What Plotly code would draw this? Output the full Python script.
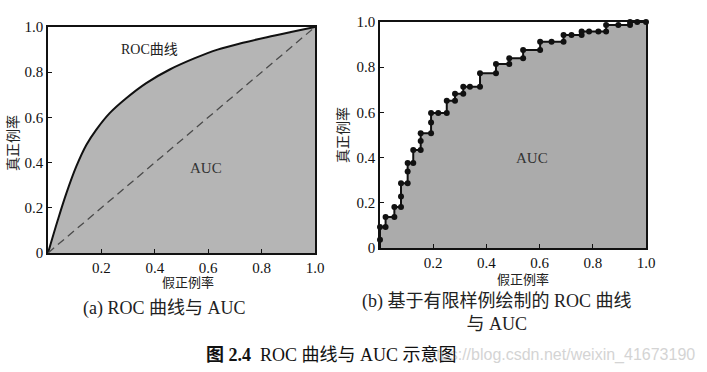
import plotly.graph_objects as go

# ---- data ----
roc_a_x = [0, 0.037, 0.069, 0.106, 0.144, 0.181, 0.231, 0.294, 0.368, 0.456, 0.55, 0.635, 0.73, 0.82, 0.91, 1.0]
roc_a_y = [0, 0.147, 0.265, 0.383, 0.479, 0.546, 0.619, 0.686, 0.752, 0.812, 0.862, 0.9, 0.93, 0.955, 0.978, 1.0]
diag_x = [0, 1]
diag_y = [0, 1]

roc_b_x = [0, 0, 0, 0.021, 0.021, 0.054, 0.054, 0.079, 0.079, 0.079, 0.104, 0.104, 0.104,
           0.125, 0.125, 0.153, 0.153, 0.153, 0.192, 0.192, 0.192, 0.219, 0.251, 0.251,
           0.282, 0.282, 0.313, 0.313, 0.338, 0.376, 0.376, 0.436, 0.436, 0.486, 0.486,
           0.538, 0.538, 0.602, 0.602, 0.645, 0.69, 0.69, 0.72, 0.758, 0.758, 0.786,
           0.821, 0.85, 0.85, 0.896, 0.94, 0.94, 0.967, 1.0]
roc_b_y = [0, 0.037, 0.093, 0.093, 0.137, 0.137, 0.181, 0.181, 0.228, 0.287, 0.287, 0.339, 0.376,
           0.376, 0.434, 0.434, 0.474, 0.508, 0.508, 0.555, 0.597, 0.597, 0.597, 0.652,
           0.652, 0.682, 0.682, 0.714, 0.714, 0.714, 0.773, 0.773, 0.814, 0.814, 0.84,
           0.84, 0.876, 0.876, 0.913, 0.913, 0.913, 0.943, 0.943, 0.943, 0.958, 0.958,
           0.958, 0.958, 0.987, 0.987, 0.987, 1.0, 1.0, 1.0]

x_ticks = [0.2, 0.4, 0.6, 0.8, 1.0]
x_tick_labels = ["0.2", "0.4", "0.6", "0.8", "1.0"]
y_ticks = [0, 0.2, 0.4, 0.6, 0.8, 1.0]
y_tick_labels = ["0", "0.2", "0.4", "0.6", "0.8", "1.0"]

axis_title_x = "假正例率"
axis_title_y = "真正例率"
caption_a = "(a) ROC 曲线与 AUC"
caption_b = "(b) 基于有限样例绘制的 ROC 曲线<br>与 AUC"
figure_title = "<b>图 2.4</b>  ROC 曲线与 AUC 示意图"
watermark = "https://blog.csdn.net/weixin_41673190"

# ---- layout helpers ----
W, H = 707, 372
def px(x):
    return x / W
def py(y):
    return 1 - y / H

SERIF = "Liberation Serif, 'Noto Sans CJK SC', serif"
CJK = "'Noto Sans CJK SC', serif"

fig = go.Figure()

# panel (a)
fig.add_trace(go.Scatter(x=roc_a_x, y=roc_a_y, mode="lines",
                         line=dict(color="#111111", width=2, shape="spline", smoothing=1.0),
                         fill="tozeroy", fillcolor="#b5b5b5",
                         xaxis="x", yaxis="y", showlegend=False, hoverinfo="skip"))
fig.add_trace(go.Scatter(x=diag_x, y=diag_y, mode="lines",
                         line=dict(color="#4a4a4a", width=1.3, dash="8px,5px"),
                         xaxis="x", yaxis="y", showlegend=False, hoverinfo="skip"))

# panel (b)
fig.add_trace(go.Scatter(x=roc_b_x, y=roc_b_y, mode="lines",
                         line=dict(color="#111111", width=2),
                         fill="tozeroy", fillcolor="#ababab",
                         xaxis="x2", yaxis="y2", showlegend=False, hoverinfo="skip"))
fig.add_trace(go.Scatter(x=roc_b_x[1:], y=roc_b_y[1:], mode="markers",
                         marker=dict(color="#111111", size=6),
                         cliponaxis=False,
                         xaxis="x2", yaxis="y2", showlegend=False, hoverinfo="skip"))

def xaxis(domain, anchor):
    return dict(domain=domain, anchor=anchor, range=[0, 1], tickvals=x_ticks, ticktext=x_tick_labels,
                showline=True, linecolor="#111111", linewidth=1.6, mirror=True, automargin=False,
                ticks="inside", ticklen=4, tickcolor="#111111", showgrid=False, zeroline=False,
                tickfont=dict(family=SERIF, size=15, color="#111111"))

def yaxis(domain, anchor):
    return dict(domain=domain, anchor=anchor, range=[0, 1], tickvals=y_ticks, ticktext=y_tick_labels,
                showline=True, linecolor="#111111", linewidth=1.6, mirror=True, automargin=False,
                ticks="inside", ticklen=4, tickcolor="#111111", showgrid=False, zeroline=False,
                tickfont=dict(family=SERIF, size=15, color="#111111"))

def note(x, y, text, font, **kw):
    d = dict(x=px(x), y=py(y), xref="paper", yref="paper", text=text, showarrow=False,
             xanchor="center", yanchor="middle", font=font)
    d.update(kw)
    return d

annotations = [
    dict(x=0.38, y=0.9, xref="x", yref="y", text="ROC曲线", showarrow=False,
         xanchor="center", yanchor="middle", font=dict(family=SERIF, size=14, color="#222222")),
    dict(x=0.59, y=0.375, xref="x", yref="y", text="AUC", showarrow=False,
         xanchor="center", yanchor="middle", font=dict(family=SERIF, size=15, color="#333333")),
    dict(x=0.57, y=0.4, xref="x2", yref="y2", text="AUC", showarrow=False,
         xanchor="center", yanchor="middle", font=dict(family=SERIF, size=15, color="#333333")),
    note(188, 281, axis_title_x, dict(family=CJK, size=13, color="#222222")),
    note(523, 278, axis_title_x, dict(family=CJK, size=13, color="#222222")),
    note(12, 143, axis_title_y, dict(family=CJK, size=14, color="#222222"), textangle=-90),
    note(342, 135, axis_title_y, dict(family=CJK, size=14, color="#222222"), textangle=-90),
    note(164, 308, caption_a, dict(family=SERIF, size=18, color="#222222")),
    note(497, 312, caption_b, dict(family=SERIF, size=18, color="#222222"), align="center"),
    note(697, 355, watermark, dict(family="Liberation Sans Narrow, Liberation Sans, sans-serif",
                                   size=16, color="#d4d4d4"), xanchor="right"),
    note(331, 355, figure_title, dict(family=SERIF, size=18, color="#111111")),
]

fig.update_layout(
    template="none",
    width=W, height=H,
    margin=dict(l=0, r=0, t=0, b=0, autoexpand=False),
    paper_bgcolor="white", plot_bgcolor="white",
    xaxis=xaxis([px(48), px(315)], "y"),
    yaxis=yaxis([py(253), py(27)], "x"),
    xaxis2=xaxis([px(380), px(646)], "y2"),
    yaxis2=yaxis([py(248), py(22)], "x2"),
    annotations=annotations,
    showlegend=False,
)

fig.write_html("out.html", config={"displayModeBar": False},
               post_script="document.body.style.margin='0px';document.body.style.overflow='hidden';")
